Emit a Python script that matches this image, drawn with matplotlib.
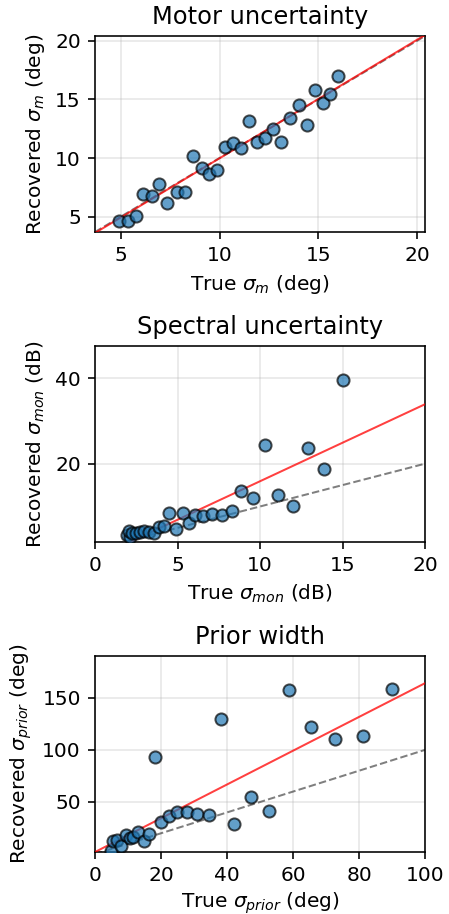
import matplotlib

matplotlib.use("Agg")
import matplotlib.pyplot as plt
import numpy as np

# Motor uncertainty (deg)
motor_true = [4.93, 5.35, 5.78, 6.15, 6.57, 6.94, 7.36, 7.84, 8.26, 8.68,
              9.10, 9.48, 9.86, 10.29, 10.68, 11.08, 11.49, 11.89, 12.28, 12.69,
              13.09, 13.58, 14.00, 14.41, 14.83, 15.22, 15.61, 16.00]
motor_rec = [4.66, 4.60, 5.09, 6.91, 6.77, 7.79, 6.20, 7.14, 7.14, 10.16,
             9.16, 8.65, 8.99, 10.95, 11.32, 10.87, 13.12, 11.38, 11.72, 12.46,
             11.38, 13.38, 14.49, 12.81, 15.80, 14.66, 15.48, 17.02]
motor_fit = (1.01, -0.12)

# Spectral uncertainty (dB)
spec_true = [1.92, 2.12, 2.08, 2.22, 2.48, 2.72, 2.98, 3.29, 3.57, 3.89,
             4.17, 4.48, 4.88, 5.32, 5.69, 6.07, 6.55, 7.10, 7.72, 8.31,
             8.87, 9.58, 10.32, 11.09, 12.00, 12.90, 13.87, 15.02]
spec_rec = [3.30, 2.90, 4.24, 3.84, 3.92, 4.08, 4.24, 4.08, 3.92, 5.25,
            5.49, 8.55, 4.63, 8.55, 6.20, 8.08, 7.76, 8.16, 8.00, 8.86,
            13.70, 12.00, 24.40, 12.60, 10.00, 23.60, 18.70, 39.60]
spec_fit = (1.80, -2.10)

# Prior width (deg)
prior_true = [4.8, 5.6, 6.6, 7.8, 9.3, 10.6, 11.4, 12.9, 14.7, 16.4,
              18.3, 20.1, 22.4, 24.9, 27.8, 31.0, 34.5, 38.2, 42.2, 47.4,
              52.8, 58.8, 65.4, 72.7, 81.1, 90.1]
prior_rec = [2.9, 12.3, 13.3, 7.5, 18.2, 15.0, 16.2, 21.4, 13.0, 19.5,
             93.2, 30.8, 37.0, 40.6, 40.3, 38.6, 37.7, 129.5, 29.2, 54.5,
             41.2, 157.1, 121.8, 110.1, 113.6, 158.1]
prior_fit = (1.62, 2.0)

panels = [
    dict(x=motor_true, y=motor_rec, fit=motor_fit, title="Motor uncertainty",
         xlabel=r"True $\sigma_m$ (deg)", ylabel=r"Recovered $\sigma_m$ (deg)",
         xlim=(3.7, 20.4), ylim=(3.7, 20.4), line=(3.7, 20.4),
         xticks=[5, 10, 15, 20], yticks=[5, 10, 15, 20]),
    dict(x=spec_true, y=spec_rec, fit=spec_fit, title="Spectral uncertainty",
         xlabel=r"True $\sigma_{mon}$ (dB)", ylabel=r"Recovered $\sigma_{mon}$ (dB)",
         xlim=(0, 20), ylim=(1.7, 47.5), line=(0, 20),
         xticks=[0, 5, 10, 15, 20], yticks=[20, 40]),
    dict(x=prior_true, y=prior_rec, fit=prior_fit, title="Prior width",
         xlabel=r"True $\sigma_{prior}$ (deg)", ylabel=r"Recovered $\sigma_{prior}$ (deg)",
         xlim=(0, 100), ylim=(2, 190), line=(0, 100),
         xticks=[0, 20, 40, 60, 80, 100], yticks=[50, 100, 150]),
]

DPI = 145
fig = plt.figure(figsize=(449 / DPI, 914 / DPI), dpi=DPI)
bottoms = [0.7462, 0.407, 0.0678]
xpads = [4.0, 4.0, 2.5]

for p, b, xpad in zip(panels, bottoms, xpads):
    ax = fig.add_axes([0.2116, b, 0.735, 0.2144])
    ax.grid(True, alpha=0.3)
    ax.set_axisbelow(True)
    lx = np.array(p["line"])
    ax.plot(lx, lx, "k--", alpha=0.5, linewidth=1.0, zorder=2)
    slope, icpt = p["fit"]
    ax.plot(lx, slope * lx + icpt, "r-", alpha=0.75, linewidth=1.0, zorder=3)
    ax.scatter(p["x"], p["y"], s=36, color="#1f77b4", edgecolor="k",
               linewidth=1.0, alpha=0.7, zorder=4)
    ax.set_xlim(p["xlim"])
    ax.set_ylim(p["ylim"])
    ax.set_xticks(p["xticks"])
    ax.set_yticks(p["yticks"])
    ax.set_title(p["title"])
    ax.set_xlabel(p["xlabel"], labelpad=xpad)
    ax.set_ylabel(p["ylabel"])

fig.savefig("out.png", dpi=DPI)
